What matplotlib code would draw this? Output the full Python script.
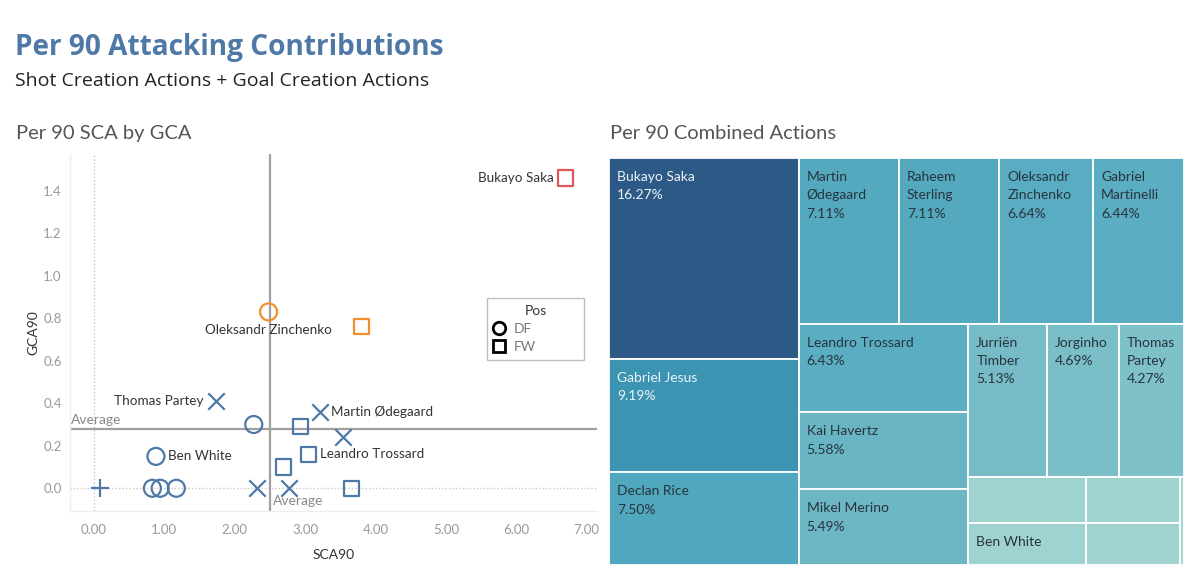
import matplotlib
matplotlib.use("Agg")
import matplotlib.pyplot as plt
from matplotlib.patches import Rectangle
from matplotlib.lines import Line2D
from matplotlib.colors import LinearSegmentedColormap, Normalize
import numpy as np

plt.rcParams['font.family'] = ['Lato', 'DejaVu Sans']

# ---------------- scatter data ----------------
players = ["Bukayo Saka", "Gabriel Jesus", "Oleksandr Zinchenko", "Thomas Partey",
           "Martin Ødegaard", "Jurriën Timber", "Gabriel Martinelli", "Declan Rice",
           "Ben White", "Leandro Trossard", "Kai Havertz", "David Raya",
           "Riccardo Calafiori", "William Saliba", "Gabriel Magalhães", "Jorginho",
           "Mikel Merino", "Raheem Sterling"]
sca90 = [6.70, 3.80, 2.48, 1.73, 3.21, 2.27, 2.93, 3.54, 0.88, 3.05, 2.69, 0.09,
         0.83, 0.94, 1.17, 2.32, 2.77, 3.66]
gca90 = [1.46, 0.76, 0.83, 0.41, 0.36, 0.30, 0.29, 0.24, 0.15, 0.16, 0.10, 0.00,
         0.00, 0.00, 0.00, 0.00, 0.00, 0.00]
pos = ["FW", "FW", "DF", "MF", "MF", "DF", "FW", "MF", "DF", "FW", "FW", "GK",
       "DF", "DF", "DF", "MF", "MF", "FW"]
group = ["top", "high", "high"] + ["rest"] * 15
labelled = ["Bukayo Saka", "Oleksandr Zinchenko", "Thomas Partey", "Martin Ødegaard",
            "Ben White", "Leandro Trossard"]
x_ticks = [0, 1, 2, 3, 4, 5, 6, 7]
y_ticks = [0.0, 0.2, 0.4, 0.6, 0.8, 1.0, 1.2, 1.4]

# ---------------- treemap data ----------------
tm_names = ["Bukayo Saka", "Gabriel Jesus", "Declan Rice", "Martin Ødegaard",
            "Raheem Sterling", "Oleksandr Zinchenko", "Gabriel Martinelli",
            "Leandro Trossard", "Kai Havertz", "Mikel Merino", "Jurriën Timber",
            "Jorginho", "Thomas Partey", "Gabriel Magalhães", "Ben White",
            "William Saliba", "Riccardo Calafiori", "David Raya"]
tm_share = [16.27, 9.19, 7.50, 7.11, 7.11, 6.64, 6.44, 6.43, 5.58, 5.49, 5.13,
            4.69, 4.27, 2.35, 2.09, 1.87, 1.67, 0.17]
tm_show_name = [True] * 13 + [False, True, False, False, False]
tm_show_pct = [True] * 13 + [False] * 5
strip_sizes = [3, 4, 3, 3, 2, 2, 1]

# ---------------- styles ----------------
group_colors = {"top": "#e15759", "high": "#f28e2b", "rest": "#4e79a7"}
markers = {"DF": "o", "FW": "s", "MF": "x", "GK": "+"}
msizes = {"DF": 150, "FW": 120, "MF": 140, "GK": 170}

W_PX, H_PX = 1200, 581
fig = plt.figure(figsize=(W_PX / 100, H_PX / 100), dpi=100)
fig.patch.set_facecolor("white")


def fx(px):
    return px / W_PX


def fy(py):
    return 1 - py / H_PX


fig.text(fx(15), fy(55), "Per 90 Attacking Contributions", fontsize=20.2,
         fontweight="bold", color="#4e79a7", va="baseline",
         family=["Open Sans", "DejaVu Sans"])
fig.text(fx(15), fy(86), "Shot Creation Actions + Goal Creation Actions",
         fontsize=14, color="#222222", va="baseline",
         family=["Open Sans", "DejaVu Sans"])
fig.text(fx(16), fy(139), "Per 90 SCA by GCA", fontsize=14.5, color="#555555",
         va="baseline")
fig.text(fx(610), fy(139), "Per 90 Combined Actions", fontsize=14.5,
         color="#555555", va="baseline")

# ---------------- scatter ----------------
ax = fig.add_axes([fx(70), fy(511), fx(596.5) - fx(70), fy(154) - fy(511)])
ax.set_xlim(-0.341, 7.14)
ax.set_ylim(-0.107, 1.573)
for s in ["top", "right"]:
    ax.spines[s].set_visible(False)
for s in ["left", "bottom"]:
    ax.spines[s].set_color("#eeeeee")
    ax.spines[s].set_linewidth(1)

ax.axvline(0, color="#c8c8c8", lw=1, ls=(0, (1, 1.5)), zorder=1)
ax.axhline(0, color="#c8c8c8", lw=1, ls=(0, (1, 1.5)), zorder=1)

avg_x = float(np.mean(sca90))
avg_y = float(np.mean(gca90))
ax.axvline(avg_x, color="#a0a0a0", lw=1.6, zorder=2)
ax.axhline(avg_y, color="#a0a0a0", lw=1.6, zorder=2)
ax.text(-0.33, avg_y + 0.012, "Average", fontsize=10, color="#888888",
        ha="left", va="bottom")
ax.text(avg_x + 0.04, -0.03, "Average", fontsize=10, color="#888888",
        ha="left", va="top")

for name, x, y, p, g in zip(players, sca90, gca90, pos, group):
    c = group_colors[g]
    m = markers[p]
    if m in ("o", "s"):
        ax.scatter([x], [y], s=msizes[p], marker=m, facecolors="none",
                   edgecolors=c, linewidths=1.6, zorder=4)
    else:
        ax.scatter([x], [y], s=msizes[p], marker=m, color=c,
                   linewidths=1.6, zorder=4)

label_pos = {
    "Bukayo Saka": ((-12, 0), "right", "center"),
    "Oleksandr Zinchenko": ((0, -12), "center", "top"),
    "Thomas Partey": ((-12, 0), "right", "center"),
    "Martin Ødegaard": ((11, 0), "left", "center"),
    "Ben White": ((12, 0), "left", "center"),
    "Leandro Trossard": ((11, 0), "left", "center"),
}
for name, x, y in zip(players, sca90, gca90):
    if name in labelled:
        off, ha, va = label_pos[name]
        ax.annotate(name, (x, y), xytext=off, textcoords="offset pixels",
                    ha=ha, va=va, fontsize=9.7, color="#333333", zorder=5)

ax.set_xticks(x_ticks)
ax.set_xticklabels([f"{v:.2f}" for v in x_ticks])
ax.set_yticks(y_ticks)
ax.set_yticklabels([f"{v:.1f}" for v in y_ticks])
ax.tick_params(axis="both", length=0, labelsize=9.5, labelcolor="#999999")
ax.tick_params(axis="x", pad=9)
ax.tick_params(axis="y", pad=6)
ax.set_xlabel("SCA90", fontsize=10, color="#333333", labelpad=10)
ax.set_ylabel("GCA90", fontsize=10, color="#333333", labelpad=3)

handles = [Line2D([], [], marker="o", ls="none", mfc="none", mec="black",
                  mew=2, ms=9, label="DF"),
           Line2D([], [], marker="s", ls="none", mfc="none", mec="black",
                  mew=2, ms=8, label="FW")]
leg = ax.legend(handles=handles, title="Pos", loc="upper left",
                bbox_to_anchor=(0.792, 0.42, 0.184, 0.177), mode="expand",
                frameon=True, fancybox=False, fontsize=10, title_fontsize=10,
                handlelength=0.8, handletextpad=0.6, labelspacing=0.45,
                borderpad=0.5, borderaxespad=0)
leg.get_frame().set_edgecolor("#b0b0b0")
leg.get_frame().set_linewidth(1)
for t in leg.get_texts():
    t.set_color("#777777")
leg.get_title().set_color("#333333")

# ---------------- treemap ----------------
tx0, tx1, ty0, ty1 = 609, 1184, 158, 565
axt = fig.add_axes([fx(tx0), fy(ty1), fx(tx1) - fx(tx0), fy(ty0) - fy(ty1)])
TW, TH = tx1 - tx0, ty1 - ty0
axt.set_xlim(0, TW)
axt.set_ylim(TH, 0)
axt.axis("off")


def strip_layout(values, sizes, x, y, w, h):
    area_per = w * h / sum(values)
    rects = []
    i = 0
    for n in sizes:
        vals = values[i:i + n]
        s = sum(vals) * area_per
        if w >= h:
            cw = s / h
            yy = y
            for v in vals:
                ch = v * area_per / cw
                rects.append((x, yy, cw, ch))
                yy += ch
            x += cw
            w -= cw
        else:
            rh = s / w
            xx = x
            for v in vals:
                rw = v * area_per / rh
                rects.append((xx, y, rw, rh))
                xx += rw
            y += rh
            h -= rh
        i += n
    return rects


cmap = LinearSegmentedColormap.from_list(
    "blueteal",
    [(0.0, "#a6d8d3"), (0.15, "#9dd2d0"), (0.25, "#7fc1c9"), (0.31, "#75bbc6"),
     (0.34, "#69b4c3"), (0.39, "#5badc1"), (0.46, "#50a6be"), (0.56, "#3c94b3"),
     (1.0, "#2c5985")])
norm = Normalize(vmin=min(tm_share), vmax=max(tm_share))

rects = strip_layout(tm_share, strip_sizes, 0, 0, TW, TH)
for (x, y, w, h), name, v, sn, sp in zip(rects, tm_names, tm_share,
                                          tm_show_name, tm_show_pct):
    axt.add_patch(Rectangle((x, y), w, h, facecolor=cmap(norm(v)),
                            edgecolor="white", linewidth=1.3))
    tc = "#eef3f7" if v > 8 else "#27343e"
    lines = []
    if sn:
        if w < 110 and " " in name:
            lines.extend(name.split(" ", 1))
        else:
            lines.append(name)
    if sp:
        lines.append(f"{v:.2f}%")
    for k, line in enumerate(lines):
        axt.text(x + 8, y + 19 + 18.3 * k, line, fontsize=10, color=tc,
                 ha="left", va="center")

fig.savefig("out.png", dpi=100, facecolor="white")
